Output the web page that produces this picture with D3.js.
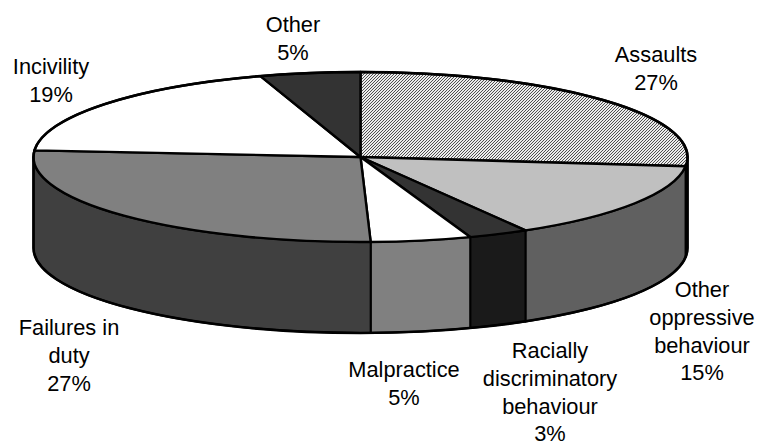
<!DOCTYPE html>
<html>
<head>
<meta charset="utf-8">
<script src="https://cdn.jsdelivr.net/npm/d3@7"></script>
<style>
html, body { margin: 0; padding: 0; background: #fff; }
svg { display: block; }
text { font-family: "Liberation Sans", Arial, sans-serif; font-size: 21.8px; fill: #000; }
</style>
</head>
<body>
<svg id="chart" width="757" height="446"></svg>
<script>
// Complaint categories, clockwise from twelve o'clock
const categories = ["Assaults", "Other oppressive behaviour", "Racially discriminatory behaviour", "Malpractice", "Failures in duty", "Incivility", "Other"];
const percentages = [27, 15, 3, 5, 27, 19, 5];
const labelLines = [
  ["Assaults"],
  ["Other", "oppressive", "behaviour"],
  ["Racially", "discriminatory", "behaviour"],
  ["Malpractice"],
  ["Failures in", "duty"],
  ["Incivility"],
  ["Other"]
];

// Disc geometry
const cx = 360.5, cy = 157, rx = 327, ry = 85, depth = 91;

// Face shades per slice
const topFill = ["url(#hatch)", "#c0c0c0", "#333333", "#ffffff", "#808080", "#ffffff", "#333333"];
const sideFill = ["#606060", "#606060", "#1a1a1a", "#808080", "#404040", "#404040", "#1a1a1a"];

// Baseline of the first text line of each label
const labelAnchor = [[656, 62], [702, 297], [550, 358], [404, 377], [69, 335], [51, 74], [293, 32]];
const lineHeight = 27.8;

const svg = d3.select("#chart");

// Fine one-pixel diagonal dither for the hatched face
const defs = svg.append("defs");
const hatch = defs.append("pattern")
  .attr("id", "hatch")
  .attr("patternUnits", "userSpaceOnUse")
  .attr("width", 3).attr("height", 3);
hatch.append("rect").attr("width", 3).attr("height", 3).attr("fill", "#ececec");
hatch.selectAll("rect.dot").data(d3.range(3)).join("rect")
  .attr("class", "dot")
  .attr("x", d => d).attr("y", d => 2 - d)
  .attr("width", 1).attr("height", 1)
  .attr("fill", "#505050")
  .attr("shape-rendering", "crispEdges");

const slices = d3.pie().sort(null).value(d => d)(percentages);

// Project a pie angle (0 = top, clockwise) on the tilted disc
const px = a => cx + rx * Math.sin(a);
const py = a => cy - ry * Math.cos(a);

const arcPath = (a0, a1, dy) => {
  const large = a1 - a0 > Math.PI ? 1 : 0;
  return `A${rx},${ry} 0 ${large} 1 ${px(a1)},${py(a1) + dy}`;
};

// Side walls only exist on the front half of the rim
const frontStart = Math.PI / 2, frontEnd = 3 * Math.PI / 2;
const walls = svg.append("g").attr("stroke", "#000").attr("stroke-width", 2).attr("stroke-linejoin", "round");
slices.forEach((s, i) => {
  const a0 = Math.max(s.startAngle, frontStart);
  const a1 = Math.min(s.endAngle, frontEnd);
  if (a1 <= a0) return;
  const d = `M${px(a0)},${py(a0)}` + arcPath(a0, a1, 0) +
    `L${px(a1)},${py(a1) + depth}` +
    `A${rx},${ry} 0 0 0 ${px(a0)},${py(a0) + depth}Z`;
  walls.append("path").attr("d", d).attr("fill", sideFill[i]);
});

// Top faces
const tops = svg.append("g").attr("stroke", "#000").attr("stroke-width", 2.4).attr("stroke-linejoin", "round");
slices.forEach((s, i) => {
  const d = `M${cx},${cy}L${px(s.startAngle)},${py(s.startAngle)}` +
    arcPath(s.startAngle, s.endAngle, 0) + "Z";
  tops.append("path").attr("d", d).attr("fill", topFill[i]);
});

// Heavier outline round the whole drum
const outline = `M${cx - rx},${cy}A${rx},${ry} 0 0 1 ${cx + rx},${cy}` +
  `L${cx + rx},${cy + depth}A${rx},${ry} 0 0 1 ${cx - rx},${cy + depth}Z`;
svg.append("path").attr("d", outline)
  .attr("fill", "none").attr("stroke", "#000").attr("stroke-width", 2.6).attr("stroke-linejoin", "round");

// Category names with their percentage beneath
const labels = svg.append("g").attr("text-anchor", "middle");
categories.forEach((name, i) => {
  const t = labels.append("text").attr("aria-label", name);
  const lines = labelLines[i].concat(percentages[i] + "%");
  lines.forEach((line, j) => {
    t.append("tspan")
      .attr("x", labelAnchor[i][0])
      .attr("y", labelAnchor[i][1] + j * lineHeight)
      .text(line);
  });
});
</script>
</body>
</html>
